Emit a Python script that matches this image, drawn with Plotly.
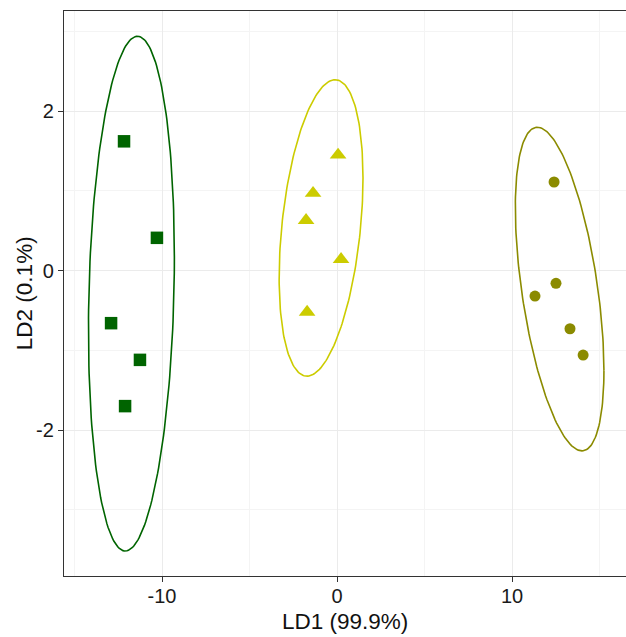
import numpy as np
import plotly.graph_objects as go

# Group A (squares)
ld1_a = [-12.17, -10.29, -12.91, -11.26, -12.11]
ld2_a = [1.62, 0.41, -0.66, -1.12, -1.70]
# Group B (triangles)
ld1_b = [0.06, -1.37, -1.77, 0.23, -1.71]
ld2_b = [1.45, 0.97, 0.63, 0.14, -0.52]
# Group C (circles)
ld1_c = [12.40, 12.51, 11.31, 13.31, 14.06]
ld2_c = [1.11, -0.16, -0.32, -0.73, -1.06]

x_ticks = [-10, 0, 10]
x_labels = ["-10", "0", "10"]
y_ticks = [-2, 0, 2]
y_labels = ["-2", "0", "2"]

groups = [
    (ld1_a, ld2_a, "square", "#006400", 12.5),
    (ld1_b, ld2_b, "triangle-up", "#CCCC00", 14.5),
    (ld1_c, ld2_c, "circle", "#8B8B00", 11),
]


def conf_ellipse(x, y, level=0.95, n=200):
    x = np.asarray(x, float)
    y = np.asarray(y, float)
    c = np.array([x.mean(), y.mean()])
    cov = np.cov(x, y)
    r = np.sqrt(-2 * np.log(1 - level))  # chi-square quantile with 2 df
    L = np.linalg.cholesky(cov)
    t = np.linspace(0, 2 * np.pi, n)
    circ = np.vstack([np.cos(t), np.sin(t)])
    pts = c[:, None] + r * (L @ circ)
    return pts[0], pts[1]


fig = go.Figure()
for x, y, sym, col, sz in groups:
    ex, ey = conf_ellipse(x, y)
    fig.add_trace(go.Scatter(x=ex, y=ey, mode="lines",
                             line=dict(color=col, width=1.6),
                             hoverinfo="skip", showlegend=False))
for x, y, sym, col, sz in groups:
    fig.add_trace(go.Scatter(x=x, y=y, mode="markers",
                             marker=dict(symbol=sym, color=col, size=sz,
                                         line=dict(width=0)),
                             showlegend=False))

font = "Liberation Sans, Arial, Helvetica, sans-serif"
axis_common = dict(
    showline=True, linecolor="#333333", linewidth=1.3,
    ticks="outside", ticklen=5, tickcolor="#333333", tickwidth=1.1,
    showgrid=True, gridcolor="#EBEBEB", gridwidth=1.1,
    zeroline=False, automargin=False,
    tickfont=dict(family=font, size=20, color="#1a1a1a"),
)

fig.update_layout(
    width=626, height=637,
    margin=dict(l=64, r=0, t=11, b=61),
    paper_bgcolor="white", plot_bgcolor="white",
    font=dict(family=font),
    xaxis=dict(
        range=[-15.6, 16.51], tickvals=x_ticks, ticktext=x_labels, mirror=True,
        ticklabelstandoff=-3,
        minor=dict(tickvals=[-15, -5, 5, 15], showgrid=True,
                   gridcolor="#F4F4F4", gridwidth=0.6, ticks=""),
        **axis_common,
    ),
    yaxis=dict(
        range=[-3.83, 3.254], tickvals=y_ticks, ticktext=y_labels, mirror=False,
        minor=dict(tickvals=[-3, -1, 1, 3], showgrid=True,
                   gridcolor="#F4F4F4", gridwidth=0.6, ticks=""),
        **axis_common,
    ),
    annotations=[
        dict(text="LD1 (99.9%)", xref="paper", yref="paper", x=0.5, y=-0.081,
             xanchor="center", yanchor="middle", showarrow=False,
             font=dict(family=font, size=22.5, color="#111111")),
        dict(text="LD2 (0.1%)", xref="paper", yref="paper", x=-0.070, y=0.5,
             xanchor="center", yanchor="middle", textangle=-90, showarrow=False,
             font=dict(family=font, size=22.5, color="#111111")),
    ],
)

fig.write_html("out.html", config={"displayModeBar": False},
               post_script="document.body.style.margin='0';document.body.style.overflow='hidden';")
